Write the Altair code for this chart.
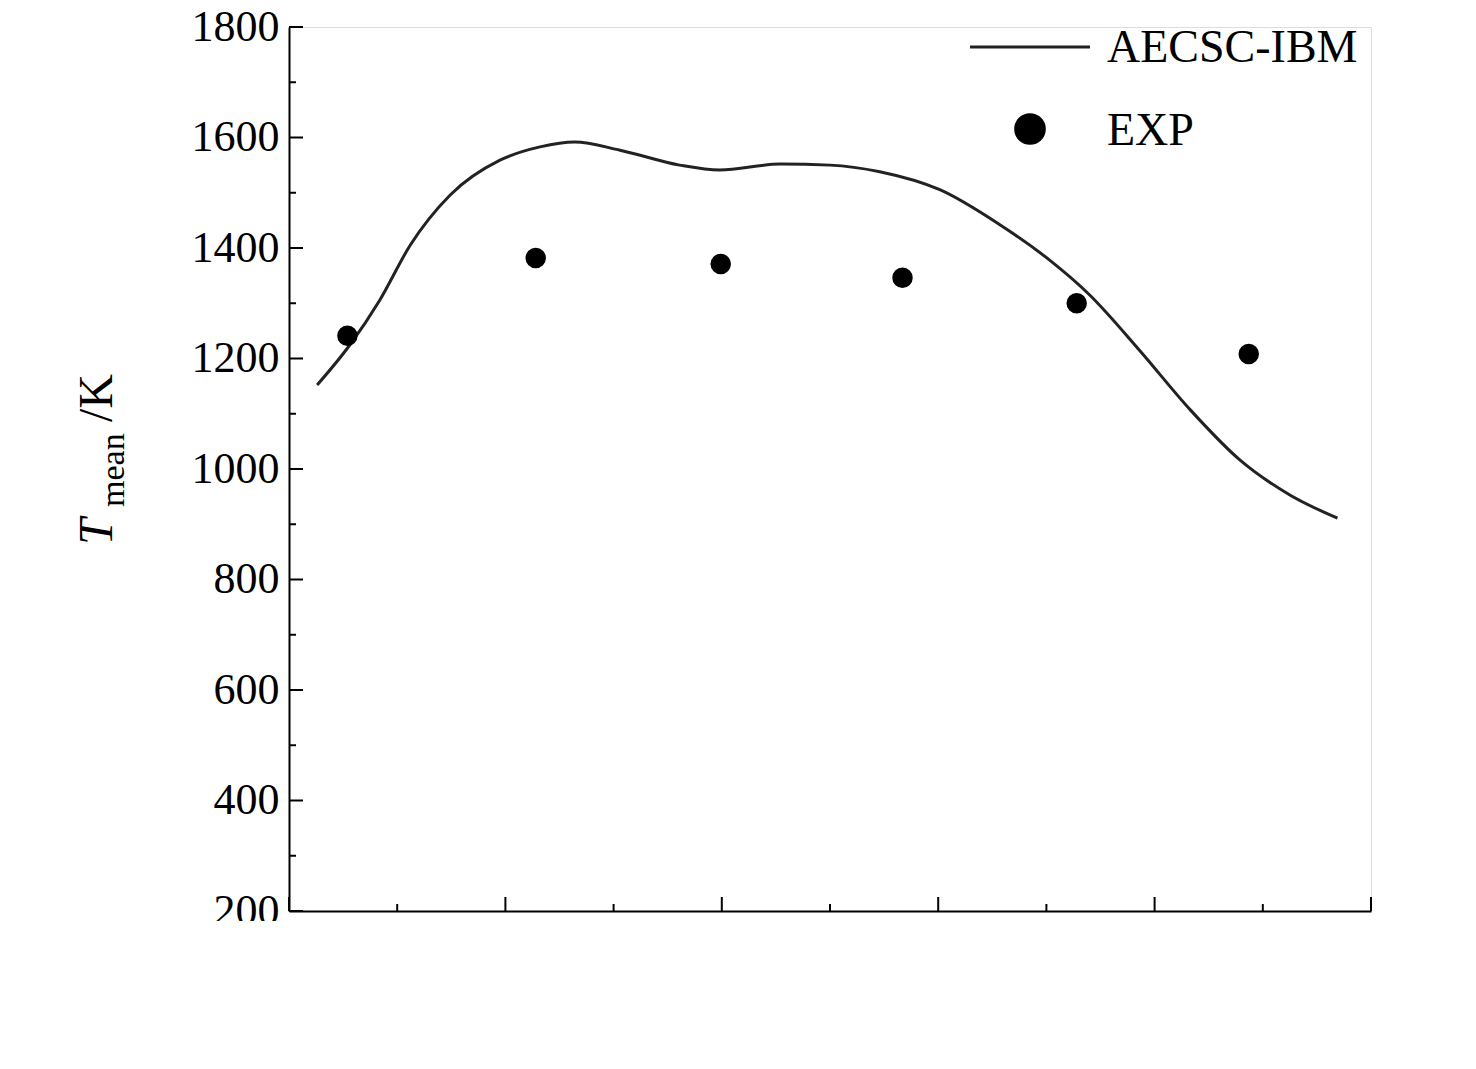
import altair as alt
import pandas as pd

line_x = [0.026,0.056,0.084,0.112,0.149,0.195,0.232,0.264,0.306,0.361,0.398,0.454,0.5,0.546,0.602,0.657,0.703,0.740,0.786,0.833,0.879,0.925,0.969]
line_y = [1152,1224,1306,1405,1496,1559,1583,1592,1577,1550,1541,1552,1550,1538,1505,1442,1378,1315,1215,1107,1016,953,911]
exp_x = [0.054,0.228,0.399,0.567,0.728,0.887]
exp_y = [1241,1382,1371,1346,1300,1208]
x_major = [0,0.2,0.4,0.6,0.8,1.0]
x_minor = [0.1,0.3,0.5,0.7,0.9]
y_major = list(range(200,1801,200))
y_minor = list(range(300,1800,200))

W, H = 1082, 884
FONT = "Liberation Serif"
xs = alt.Scale(domain=[0,1], nice=False)
ys = alt.Scale(domain=[200,1800], nice=False)

line = alt.Chart(pd.DataFrame({"x":line_x,"y":line_y})).mark_line(color="#222", strokeWidth=3, interpolate="monotone").encode(
    x=alt.X("x:Q", scale=xs, axis=alt.Axis(values=x_major, title="Relative height", ticks=False, labelFontSize=44, titleFontSize=46,
        labelFont=FONT, titleFont=FONT, titleFontWeight="normal", labelColor="black", titleColor="black", domainColor="black",
        domainWidth=2, grid=False, labelPadding=10, titlePadding=20, labelExpr="datum.value == 0 ? '0' : format(datum.value, '.1f')")),
    y=alt.Y("y:Q", scale=ys, axis=alt.Axis(values=y_major, title=None, ticks=False, labelFontSize=44, labelFont=FONT, format="d",
        labelColor="black", domainColor="black", domainWidth=2, grid=False, labelPadding=10)))
pts = alt.Chart(pd.DataFrame({"x":exp_x,"y":exp_y})).mark_point(filled=True, color="black", size=420, opacity=1).encode(
    x=alt.X("x:Q", scale=xs), y=alt.Y("y:Q", scale=ys))

def xticks(vals, L):
    return alt.Chart(pd.DataFrame({"v":vals})).mark_rule(color="black", strokeWidth=2).encode(
        x=alt.X("v:Q", scale=xs), y=alt.value(H), y2=alt.value(H-L))
def yticks(vals, L):
    return alt.Chart(pd.DataFrame({"v":vals})).mark_rule(color="black", strokeWidth=2).encode(
        y=alt.Y("v:Q", scale=ys), x=alt.value(0), x2=alt.value(L))

def txt(t, x, y, size, style="normal", angle=0, align="left"):
    return alt.Chart(pd.DataFrame({"t":[t]})).mark_text(font=FONT, fontSize=size, fontStyle=style, angle=angle,
        align=align, baseline="alphabetic", color="black").encode(text="t:N", x=alt.value(x), y=alt.value(y))

legline = alt.Chart(pd.DataFrame({"a":[0]})).mark_rule(color="#222", strokeWidth=3).encode(
    x=alt.value(970-289), x2=alt.value(1090-289), y=alt.value(47-27))
legdot = alt.Chart(pd.DataFrame({"a":[0]})).mark_point(filled=True, color="black", size=1000, opacity=1).encode(
    x=alt.value(1030-289), y=alt.value(129-27))

chart = alt.layer(
    line, pts, xticks(x_major, 14), xticks(x_minor, 7), yticks(y_major, 14), yticks(y_minor, 7),
    legline, legdot,
    txt("AECSC-IBM", 1107-289, 62-27, 46), txt("EXP", 1107-289, 145-27, 46),
    txt("T", 112-289, 545-27, 48, "italic", 270),
    txt("mean", 124-289, 507-27, 34, "normal", 270),
    txt("/K", 112-289, 422-27, 48, "normal", 270),
).properties(width=W, height=H, autosize=alt.AutoSizeParams(type="none"),
    padding={"left":281,"top":19,"right":10,"bottom":10}
).configure_view(stroke=None, strokeWidth=0).configure(background="white")

chart.save("out.html", embed_options={"renderer": "svg", "actions": False})
